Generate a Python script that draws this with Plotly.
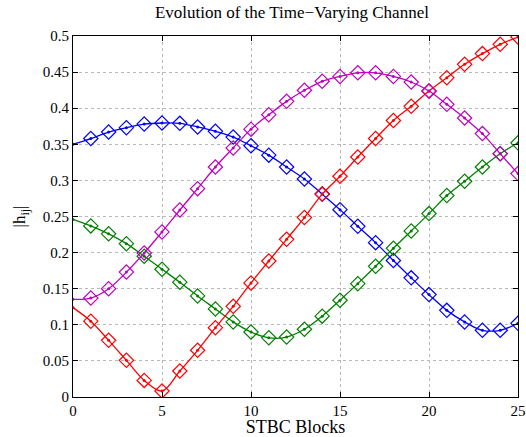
import plotly.graph_objects as go

blocks = list(range(26))
h_blue = [0.350, 0.358, 0.367, 0.373, 0.378, 0.3795, 0.379, 0.374, 0.368, 0.360, 0.348, 0.335, 0.3186,
          0.302, 0.281, 0.2595, 0.2364, 0.2138, 0.189, 0.165, 0.1418, 0.120, 0.104, 0.0924, 0.0924, 0.102]
h_green = [0.246, 0.237, 0.226, 0.2124, 0.195, 0.177, 0.159, 0.140, 0.122, 0.104, 0.090, 0.082, 0.083,
           0.0938, 0.112, 0.134, 0.157, 0.181, 0.206, 0.230, 0.254, 0.279, 0.2988, 0.3186, 0.337, 0.352]
h_red = [0.1238, 0.105, 0.0785, 0.0508, 0.023, 0.0083, 0.036, 0.0647, 0.096, 0.1256, 0.158, 0.1884, 0.2184,
         0.2485, 0.281, 0.3057, 0.3324, 0.358, 0.383, 0.4026, 0.4238, 0.4423, 0.4608, 0.4756, 0.4885, 0.4986]
h_mag = [0.1353, 0.137, 0.150, 0.173, 0.1995, 0.2286, 0.259, 0.2886, 0.3186, 0.345, 0.371, 0.391, 0.4095,
         0.4248, 0.4373, 0.444, 0.449, 0.449, 0.444, 0.4363, 0.4238, 0.4054, 0.3864, 0.3648, 0.337, 0.3094]

series = [(h_blue, "#0000FF"), (h_green, "#008000"), (h_red, "#FF0000"), (h_mag, "#BF00BF")]

xticks = [0, 5, 10, 15, 20, 25]
yticks = [0, 0.05, 0.1, 0.15, 0.2, 0.25, 0.3, 0.35, 0.4, 0.45, 0.5]
ylabels = ["0", "0.05", "0.1", "0.15", "0.2", "0.25", "0.3", "0.35", "0.4", "0.45", "0.5"]

fig = go.Figure()
for vals, col in series:
    fig.add_trace(go.Scatter(x=blocks, y=vals, mode="lines+markers",
                             line=dict(color=col, width=1.3, shape="spline"),
                             marker=dict(symbol="circle", size=3, color=col),
                             showlegend=False, hoverinfo="skip"))
    fig.add_trace(go.Scatter(x=blocks[1:], y=vals[1:], mode="markers",
                             marker=dict(symbol="diamond-open", size=11, color=col,
                                         line=dict(color=col, width=1.2)),
                             showlegend=False))

font = "Liberation Serif"
tf = dict(family=font, size=15, color="black")
fig.update_layout(
    width=526, height=437,
    margin=dict(l=73, r=8, t=36, b=40, autoexpand=False),
    paper_bgcolor="white", plot_bgcolor="white",
    font=dict(family=font, size=15, color="black"),
    title=dict(text="Evolution of the Time\u2212Varying Channel", x=0.555, xanchor="center",
               y=0.985, yanchor="top", font=dict(family=font, size=17, color="black")),
    xaxis=dict(range=[0, 25], tickvals=xticks, ticks="inside", ticklen=5, tickcolor="black",
               showline=True, linecolor="black", linewidth=1, mirror="ticks", automargin=False,
               showgrid=True, gridcolor="#b8b8b8", griddash="dot", gridwidth=1,
               zeroline=False, tickfont=tf,
               title=dict(text="STBC Blocks", font=dict(family=font, size=18), standoff=2)),
    yaxis=dict(range=[0, 0.5], tickvals=yticks, ticktext=ylabels, ticks="inside", ticklen=5,
               tickcolor="black", showline=True, linecolor="black", linewidth=1, mirror="ticks",
               automargin=False,
               showgrid=True, gridcolor="#b8b8b8", griddash="dot", gridwidth=1,
               zeroline=False, tickfont=tf,
               title=dict(text="|h<sub>ij</sub>|", font=dict(family=font, size=17), standoff=12)),
)
fig.write_html("out.html")
